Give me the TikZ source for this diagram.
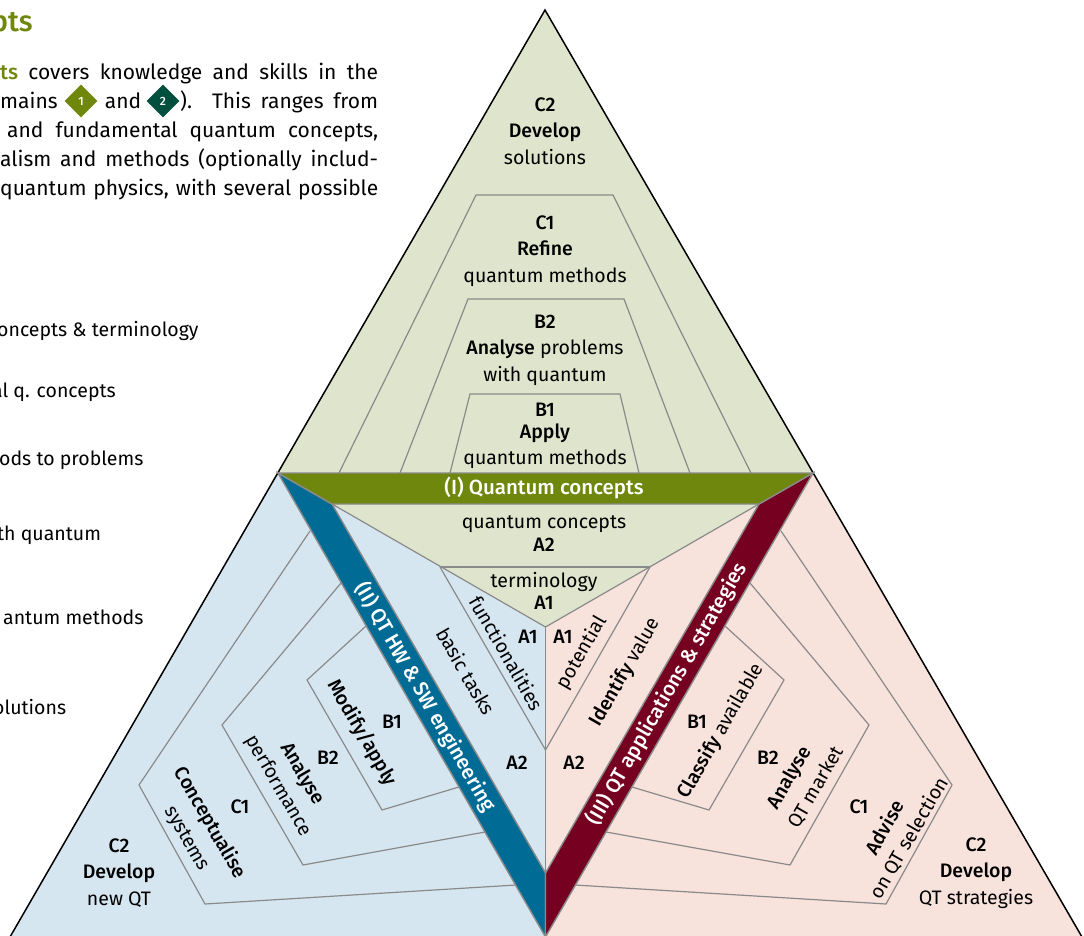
\documentclass[tikz,border=0pt]{standalone}
\usepackage{fontspec}
\setmainfont[BoldFont={Fira Sans Medium}]{Fira Sans}
\usetikzlibrary{shapes.geometric,positioning}
\definecolor{zonegreen}{HTML}{DFE4CC}
\definecolor{zoneblue}{HTML}{D6E6F1}
\definecolor{zonepink}{HTML}{F8E2DC}
\definecolor{bandgreen}{HTML}{6F870C}
\definecolor{bandblue}{HTML}{006C96}
\definecolor{bandred}{HTML}{75001F}
\definecolor{darkgem}{HTML}{004F3F}
\definecolor{rim}{HTML}{8A8A8A}

\begin{document}
\begin{tikzpicture}[x=1pt,y=-1pt,every node/.style={inner sep=0pt,font=\fontsize{19.5}{26.5}\selectfont,text=black},
	stack/.style={align=center},
	bandtext/.style={text=white,font=\fontsize{20.5}{26}\selectfont\bfseries},
	copyline/.style={anchor=base west},
	bodyline/.style={anchor=base west,font=\fontsize{21}{29}\selectfont},
	level/.style={draw=rim,line width=1.2pt},
	band/.style={draw=rim,line width=1.4pt},
	gem/.style={shape=diamond,minimum size=33pt,text=white,font=\fontsize{12}{12}\selectfont\bfseries}]
	\useasboundingbox (0,0) rectangle (1084,936);

	% corners of the figure
	\coordinate (apex) at (545,10);
	\coordinate (midl) at (278,473);
	\coordinate (midr) at (813,473);
	\coordinate (botl) at (10,937);
	\coordinate (botr) at (1082,937);
	\coordinate (botm) at (545.5,937);
	\coordinate (barl) at (332,504);
	\coordinate (barr) at (759,504);
	\coordinate (tip) at (545.5,627);
	\coordinate (cross) at (545.5,873);

	% fill the three zones
	\fill[zoneblue] (midl) -- (botl) -- (botm) -- (tip) -- cycle;
	\fill[zonepink] (midr) -- (botr) -- (botm) -- (tip) -- cycle;
	\fill[zonegreen] (apex) -- (midl) -- (midr) -- cycle;
	\fill[zonegreen] (barl) -- (barr) -- (tip) -- cycle;
	\draw[level] (barl) -- (tip) -- (barr);
	\draw[level] (tip) -- (cross);
	\draw[black,line width=1.5pt] (botl) -- (apex) -- (botr);

	% nested levels, top
	\draw[level] (339,473) -- (476,195) -- (613,195) -- (751,473);
	\draw[level] (400,473) -- (468,299) -- (624,299) -- (690,473);
	\draw[level] (450,473) -- (470,394) -- (620,394) -- (639,473);
	\draw[level] (440,567) -- (650,567);

	% nested levels, left
	\draw[level] (310,531) -- (139,785) -- (205,904) -- (516,885);
	\draw[level] (341,583) -- (222,725) -- (303,865) -- (485,832);
	\draw[level] (366,626) -- (307,680) -- (382,810) -- (459,787);
	\draw[level] (440,567) -- (545.5,750);

	% nested levels, right
	\draw[level] (781,531) -- (952,785) -- (886,904) -- (575,885);
	\draw[level] (750,583) -- (869,725) -- (790,865) -- (606,832);
	\draw[level] (725,626) -- (784,680) -- (709,810) -- (632,787);
	\draw[level] (650,567) -- (545.5,750);

	% the three bands
	\filldraw[band,fill=bandblue] (midl) -- (barl) -- (cross) -- (botm) -- cycle;
	\filldraw[band,fill=bandred] (midr) -- (barr) -- (cross) -- (botm) -- cycle;
	\filldraw[band,fill=bandgreen] (midl) -- (midr) -- (barr) -- (barl) -- cycle;

	% create the nodes
	\node (barone)[bandtext] at (544,488) {(I) Quantum concepts};
	\node (bartwo)[bandtext,rotate=-60] at (425,697) {(II) QT HW \& SW engineering};
	\node (barthree)[bandtext,rotate=60] at (667,694) {(III) QT applications \& strategies};

	\node (topctwo)[stack] at (545,131) {\textbf{C2}\\\textbf{Develop}\\solutions};
	\node (topcone)[stack] at (545,251) {\textbf{C1}\\\textbf{Refine}\\quantum methods};
	\node (topbtwo)[stack] at (545,350) {\textbf{B2}\\\textbf{Analyse} problems\\with quantum};
	\node (topbone)[stack] at (545,436) {\textbf{B1}\\[-5pt]\textbf{Apply}\\quantum methods};
	\node (topatwo)[stack,font=\fontsize{19.5}{23}\selectfont] at (544,534) {quantum concepts\\\textbf{A2}};
	\node (topaone)[stack,font=\fontsize{19.5}{22}\selectfont] at (544,591) {terminology\\\textbf{A1}};

	\node (leftctwo)[stack] at (119,873) {\textbf{C2}\\\textbf{Develop}\\new QT};
	\node (leftcone) at (240,807) {\textbf{C1}};
	\node (leftbtwo) at (328,758) {\textbf{B2}};
	\node (leftbone) at (392,722) {\textbf{B1}};
	\node (leftatwo) at (517,763) {\textbf{A2}};
	\node (leftaone) at (528,637) {\textbf{A1}};
	\node (func)[rotate=-60] at (507,653) {functionalities};
	\node (tasks)[rotate=-60] at (466,671) {basic tasks};
	\node (modify)[rotate=-60] at (362,733) {\textbf{Modify/apply}};
	\node (anaperf)[rotate=-60] at (302,774) {\textbf{Analyse}};
	\node (perf)[rotate=-60] at (278,786) {performance};
	\node (concept)[rotate=-60] at (210,823) {\textbf{Conceptualise}};
	\node (systems)[rotate=-60] at (186,839) {systems};

	\node (rightctwo)[stack] at (976,873) {\textbf{C2}\\\textbf{Develop}\\QT strategies};
	\node (rightcone) at (859,807) {\textbf{C1}};
	\node (rightbtwo) at (768,758) {\textbf{B2}};
	\node (rightbone) at (697,722) {\textbf{B1}};
	\node (rightatwo) at (574,763) {\textbf{A2}};
	\node (rightaone) at (563,637) {\textbf{A1}};
	\node (potential)[rotate=60] at (582,653) {potential};
	\node (identify)[rotate=60] at (625,672) {\textbf{Identify} value};
	\node (classify)[rotate=60] at (721,731) {\textbf{Classify} available};
	\node (anamarket)[rotate=60] at (790,778) {\textbf{Analyse}};
	\node (market)[rotate=60] at (816,787) {QT market};
	\node (advise)[rotate=60] at (884,827) {\textbf{Advise}};
	\node (selection)[rotate=60] at (909,838) {on QT selection};

	% the text beside the figure
	\node (title)[anchor=base east,text=bandgreen,font=\fontsize{29}{29}\selectfont\bfseries] at (33,32) {pts};
	\node (copya)[bodyline] at (0,80) {\makebox[378pt][s]{\textcolor{bandgreen}{\textbf{ts}} covers knowledge and skills in the}};
	\node (copyb)[bodyline] at (0,109) {mains};
	\node (gemone)[gem,fill=bandgreen] at (81,101) {1};
	\node (copyc)[right =7pt of gemone,anchor=west,font=\fontsize{21}{29}\selectfont] {and};
	\node (gemtwo)[gem,fill=darkgem] at (163,101) {2};
	\node (copyd)[bodyline] at (180,109) {\makebox[198pt][s]{). This ranges from}};
	\node (copye)[bodyline] at (7,138) {\makebox[371pt][s]{and fundamental quantum concepts,}};
	\node (copyf)[bodyline] at (0,167) {\makebox[378pt][s]{alism and methods (optionally includ-}};
	\node (copyg)[bodyline] at (0,196) {\makebox[378pt][s]{quantum physics, with several possible}};
	\node (lista)[copyline] at (-3,336) {oncepts \& terminology};
	\node (listb)[copyline] at (-8,397) {al q. concepts};
	\node (listc)[copyline] at (-1,465) {ods to problems};
	\node (listd)[copyline] at (-3,540) {th quantum};
	\node (liste)[copyline] at (3,624) {antum methods};
	\node (listf)[copyline] at (-7,714) {olutions};
\end{tikzpicture}
\end{document}
